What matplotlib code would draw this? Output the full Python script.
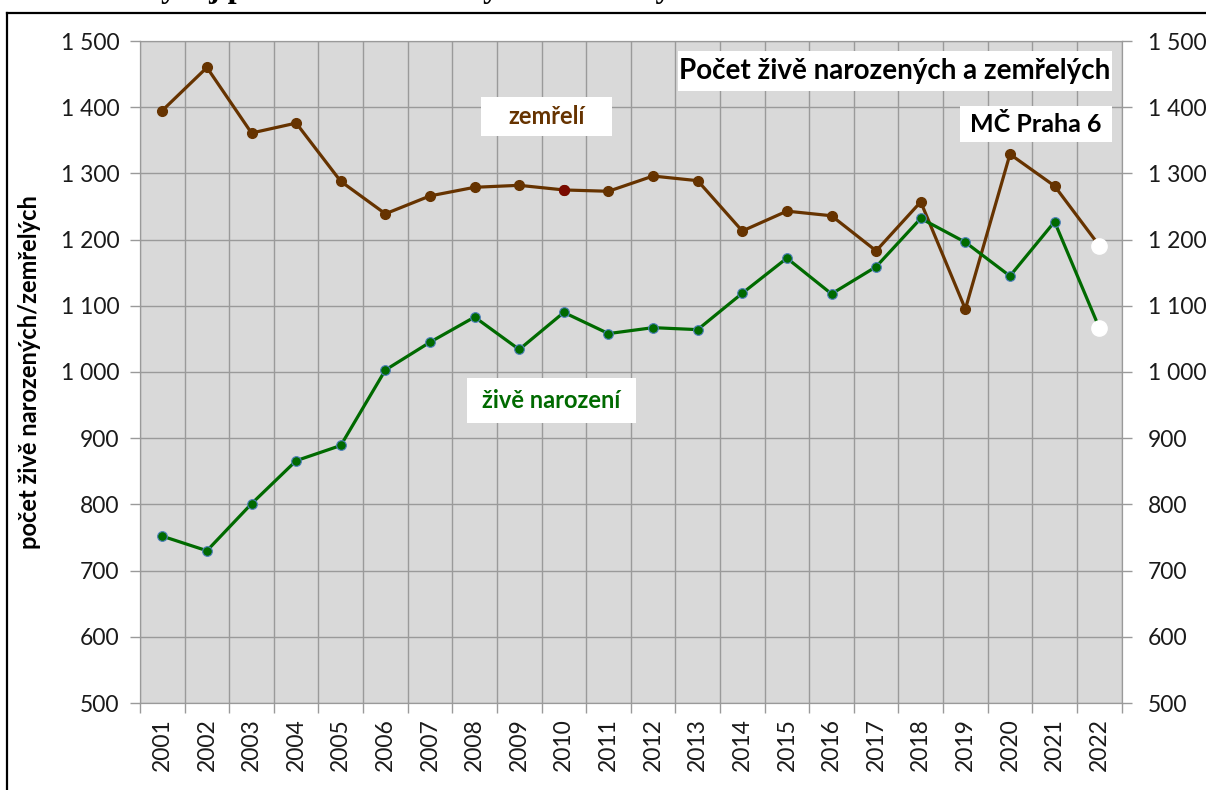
import numpy as np
import matplotlib
matplotlib.use("Agg")
import matplotlib.pyplot as plt
from matplotlib.lines import Line2D
from matplotlib.patches import Rectangle

#--- data
years = [str(y) for y in range(2001, 2023)]
zemreli = [1395, 1460, 1361, 1376, 1288, 1239, 1266, 1279, 1282, 1275, 1273,
           1296, 1289, 1213, 1243, 1236, 1183, 1257, 1095, 1329, 1281, 1191]
narozeni = [752, 730, 801, 866, 889, 1003, 1045, 1083, 1034, 1090, 1058,
            1067, 1064, 1119, 1172, 1118, 1159, 1232, 1196, 1145, 1227, 1067]
yticks = list(range(500, 1501, 100))

W, H = 1206, 790
brown = '#663300'
green = '#006A00'
grid_c = '#9A9A9A'
plt.rcParams['font.family'] = ['Lato', 'DejaVu Sans']

fig = plt.figure(figsize=(W/100, H/100), dpi=100)
ax = fig.add_axes([140/W, 1-703/H, (1121.5-140)/W, (703-41)/H])
ax.set_facecolor('#D9D9D9')

x = np.arange(len(years))
ax.plot(x, zemreli, '-o', color=brown, lw=2.3, ms=7, mec=brown, zorder=3)
# 2010 point has a darker red marker
mark = np.array(years) == '2010'
ax.plot(x[mark], np.array(zemreli)[mark], 'o', color='#7A0A00', ms=7, zorder=4)
ax.plot(x, narozeni, '-o', color=green, lw=2.3, ms=7, mec='#4F81BD', mew=0.8, zorder=5)
# last year (preliminary) shown with white markers
ax.plot(x[-1:], zemreli[-1:], 'o', color='white', ms=11, zorder=6)
ax.plot(x[-1:], narozeni[-1:], 'o', color='white', ms=11, zorder=6)

ax.set_xlim(-0.5, len(years)-0.5)
ax.set_ylim(500, 1500)
ax.set_xticks(x)
ax.set_xticklabels(years, rotation=90, fontsize=16.5, color='#1A1A1A')
ax.set_xticks(np.arange(-0.5, len(years)), minor=True)
ax.tick_params(axis='x', which='major', length=0, pad=11)
ax.tick_params(axis='x', which='minor', length=7, color=grid_c, width=1)
ax.grid(axis='x', which='minor', color=grid_c, lw=1)

fmt = [f"{v:,}".replace(",", " ") for v in yticks]
ax.set_yticks(yticks)
ax.set_yticklabels(fmt, fontsize=16.5, color='#1A1A1A')
ax.tick_params(axis='y', length=7, color=grid_c, width=1, pad=8)
ax.grid(axis='y', which='major', color=grid_c, lw=1)
ax.set_axisbelow(True)
for s in ax.spines.values():
    s.set_color(grid_c)

ax2 = ax.twinx()
ax2.set_ylim(500, 1500)
ax2.set_yticks(yticks)
ax2.set_yticklabels(fmt, fontsize=16.5, color='#1A1A1A')
ax2.tick_params(axis='y', length=7, color=grid_c, width=1, pad=12)
for s in ax2.spines.values():
    s.set_color(grid_c)

ax.set_ylabel('počet živě narozených/zemřelých', fontsize=17, fontweight='bold')
ax.yaxis.set_label_coords(-0.101, 0.5)


def label_box(x0, y0, x1, y1, text, color, size):
    # box and text in figure pixels (top-left origin)
    fig.patches.append(Rectangle((x0/W, 1-y1/H), (x1-x0)/W, (y1-y0)/H,
                                 transform=fig.transFigure, facecolor='white',
                                 edgecolor='none', zorder=5))
    fig.text((x0+x1)/2/W, 1-(y0+y1)/2/H, text, color=color, fontsize=size,
             fontweight='bold', ha='center', va='center', zorder=6)


label_box(678, 51, 1112, 91, 'Počet živě narozených a zemřelých', 'black', 20)
label_box(960, 106, 1112, 142, 'MČ Praha 6', 'black', 18)
label_box(481, 97, 612, 136, 'zemřelí', brown, 17)
label_box(467, 378, 636, 423, 'živě narození', green, 17)

# frame of the embedded chart and the cut-off heading above it
fig.add_artist(Line2D([7/W, 7/W], [0, 1-12.5/H], color='black', lw=1.6))
fig.add_artist(Line2D([7/W, 1], [1-12.5/H, 1-12.5/H], color='black', lw=1.6))
fig.text(138/W, 1+2.5/H, 'Vývoj počtu živě narozených a zemřelých',
         family=['Liberation Serif'], fontweight='bold', fontsize=23, va='baseline')

fig.savefig('out.png', dpi=100)
